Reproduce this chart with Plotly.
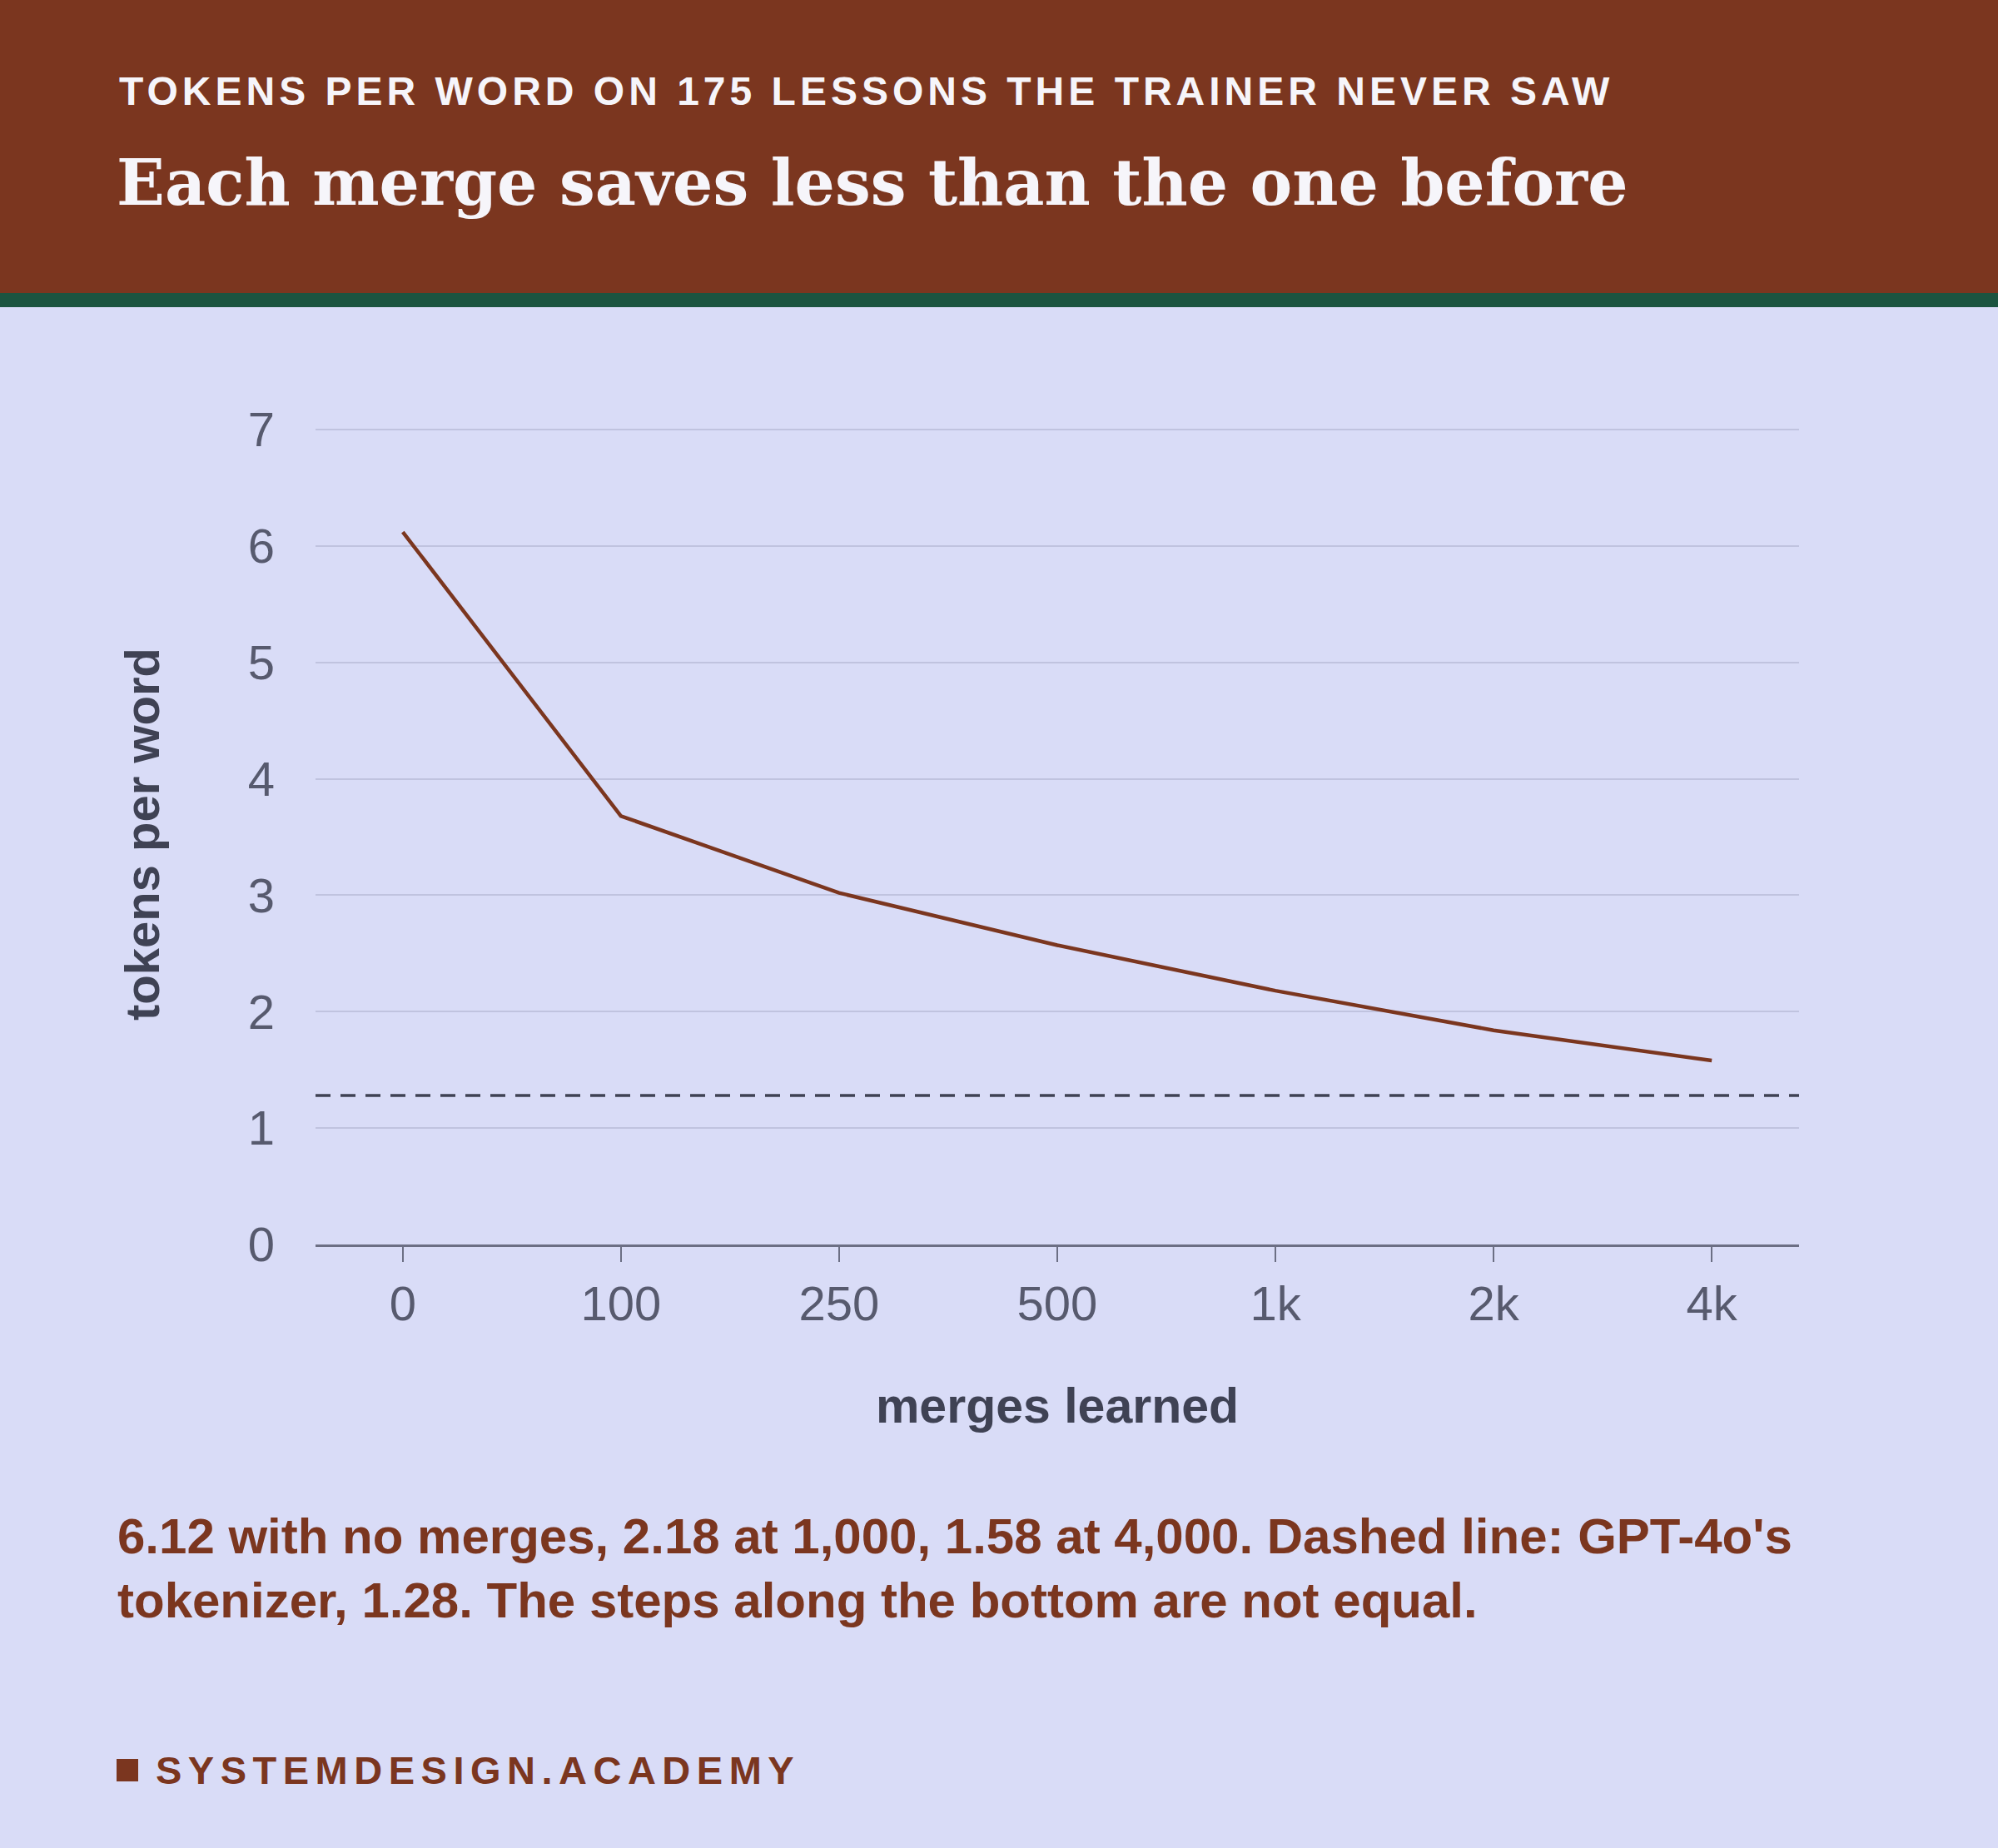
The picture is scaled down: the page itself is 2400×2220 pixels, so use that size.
import plotly.graph_objects as go

# data
merges = ["0", "100", "250", "500", "1k", "2k", "4k"]
tokens_per_word = [6.12, 3.68, 3.02, 2.57, 2.18, 1.84, 1.58]
gpt4o = 1.28
y_ticks = [0, 1, 2, 3, 4, 5, 6, 7]

BROWN = "#7b361f"
GREEN = "#1b5440"
BG = "#d9dcf7"
GRID = "#c0c3df"
AXIS = "#6c6f84"
TICK = "#575a6e"
DARK = "#3f4254"
SANS = "Liberation Sans"
SERIF = "DejaVu Serif"

# plot area in pixels (figure is 2400 x 2220); y range tops out a hair above 7
W, H = 2400, 2220
L, R, T, B = 379, 2161, 509, 1495
YMAX = 7.05


def px(x):
    return (x - L) / (R - L)


def py(y):
    return (B - y) / (B - T)


fig = go.Figure()
fig.add_trace(go.Scatter(x=merges, y=tokens_per_word, mode="lines",
                         line=dict(color=BROWN, width=4.5), hoverinfo="skip"))

shapes = [
    # header band + green rule
    dict(type="rect", xref="paper", yref="paper", x0=px(0), x1=px(W), y0=py(352), y1=py(0),
         fillcolor=BROWN, line_width=0, layer="below"),
    dict(type="rect", xref="paper", yref="paper", x0=px(0), x1=px(W), y0=py(369), y1=py(352),
         fillcolor=GREEN, line_width=0, layer="below"),
    # GPT-4o reference
    dict(type="line", xref="paper", yref="y", x0=0, x1=1, y0=gpt4o, y1=gpt4o,
         line=dict(color=DARK, width=3.5, dash="18px,12px")),
    # footer mark
    dict(type="rect", xref="paper", yref="paper", x0=px(140), x1=px(166), y0=py(2140), y1=py(2113),
         fillcolor=BROWN, line_width=0),
]

annotations = [
    dict(text="<span style='letter-spacing:5px'>TOKENS PER WORD ON 175 LESSONS THE TRAINER NEVER SAW</span>",
         x=px(141), y=py(110), font=dict(family=SANS, size=48, color="#f6f5fa", weight="bold")),
    dict(text="Each merge saves less than the one before",
         x=px(138), y=py(220), font=dict(family=SERIF, size=76, color="#f6f5fa", weight="bold")),
    dict(text="6.12 with no merges, 2.18 at 1,000, 1.58 at 4,000. Dashed line: GPT-4o's",
         x=px(139), y=py(1845), font=dict(family=SANS, size=60, color=BROWN, weight="bold")),
    dict(text="tokenizer, 1.28. The steps along the bottom are not equal.",
         x=px(139), y=py(1922), font=dict(family=SANS, size=60, color=BROWN, weight="bold")),
    dict(text="<span style='letter-spacing:7.5px'>SYSTEMDESIGN.ACADEMY</span>",
         x=px(185), y=py(2126), font=dict(family=SANS, size=47, color=BROWN, weight="bold")),
]
for a in annotations:
    a.update(xref="paper", yref="paper", xanchor="left", yanchor="middle", showarrow=False)

fig.update_layout(
    width=W, height=H,
    margin=dict(l=L, r=W - R, t=T, b=H - B),
    paper_bgcolor=BG, plot_bgcolor=BG,
    showlegend=False,
    shapes=shapes,
    annotations=annotations,
)
fig.update_xaxes(
    type="category", range=[-0.4, 6.4],
    showgrid=False, zeroline=False,
    showline=True, linecolor=AXIS, linewidth=3,
    ticks="outside", ticklen=18, tickwidth=2, tickcolor=AXIS,
    tickfont=dict(family=SANS, size=58, color=TICK),
    ticklabelstandoff=0,
    title=dict(text="merges learned", font=dict(family=SANS, size=59, color=DARK, weight="bold"),
               standoff=72),
)
fig.update_yaxes(
    range=[0, YMAX], tickvals=y_ticks,
    showgrid=True, gridcolor=GRID, gridwidth=2,
    zeroline=False, showline=False, ticks="",
    tickfont=dict(family=SANS, size=58, color=TICK),
    ticklabelstandoff=48,
    title=dict(text="tokens per word", font=dict(family=SANS, size=58, color=DARK, weight="bold"),
               standoff=87),
)

fig.write_html("out.html", config={"displayModeBar": False},
               post_script="document.body.style.margin='0';")
